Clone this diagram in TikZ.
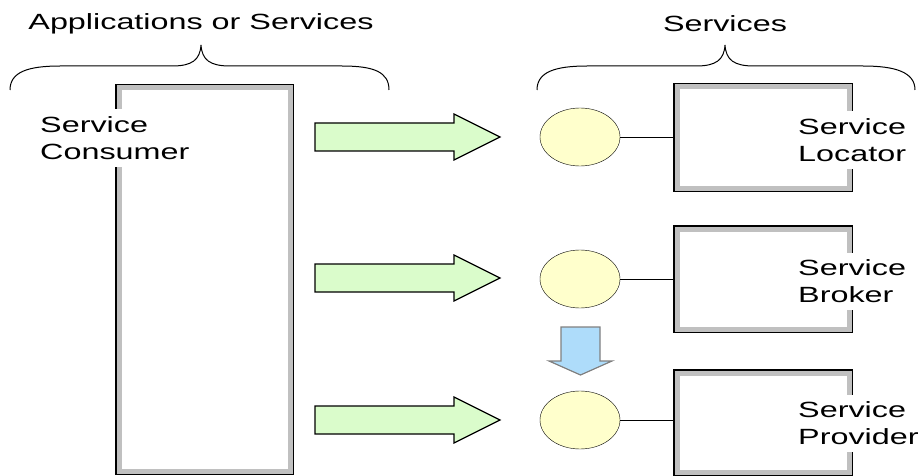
\documentclass[tikz,border=0pt]{standalone}
\usepackage{fontspec}
\setmainfont{Liberation Sans}
\usetikzlibrary{shapes.geometric}

\definecolor{arrowgreen}{HTML}{DAFCCB}
\definecolor{portyellow}{HTML}{FFFFCC}
\definecolor{arrowblue}{HTML}{AEDCFA}
\definecolor{insetgray}{HTML}{C0C0C0}
\newcommand{\wtxt}[1]{\scalebox{1.47}[1]{#1}}

\begin{document}
\begin{tikzpicture}[x=1pt,y=-1pt,
  svcbox/.style={draw,line width=3pt,inner sep=0pt},
  boxinset/.style={draw=insetgray,line width=5pt},
  boxlabel/.style={fill=white,align=left,anchor=west,inner xsep=3pt,inner ysep=7pt,
    font=\fontsize{22}{27}\selectfont},
  heading/.style={font=\fontsize{22}{27}\selectfont},
  port/.style={ellipse,draw,fill=portyellow,minimum width=80pt,minimum height=58pt,inner sep=0pt},
  fatarrow/.style={draw,line width=1.2pt,fill=arrowgreen},
  downarrow/.style={draw=gray,line width=1.2pt,fill=arrowblue},
  bracepath/.style={line width=1pt}]
  \useasboundingbox (0,0) rectangle (921,476);

  % headings and braces
  \node[heading] (apps) at (201,24) {\wtxt{Applications or Services}};
  \node[heading] (svcs) at (725,24) {\wtxt{Services}};
  \draw[bracepath] (10,90) .. controls (10,72) and (28,66) .. (60,66) -- (172,66)
    .. controls (192,66) and (200,60) .. (201,45)
    .. controls (202,60) and (210,66) .. (230,66) -- (342,66)
    .. controls (374,66) and (389,72) .. (389,90);
  \draw[bracepath] (537,90) .. controls (537,72) and (555,66) .. (587,66) -- (696,66)
    .. controls (716,66) and (724,60) .. (725,45)
    .. controls (726,60) and (734,66) .. (754,66) -- (863,66)
    .. controls (895,66) and (915,72) .. (915,90);

  % boxes
  \node[svcbox,minimum width=176pt,minimum height=388pt] (consumer) at (204.5,279.5) {};
  \node[svcbox,minimum width=177pt,minimum height=106pt] (locator) at (763,137.5) {};
  \node[svcbox,minimum width=177pt,minimum height=105pt] (broker) at (763,279) {};
  \node[svcbox,minimum width=177pt,minimum height=104pt] (provider) at (763,422.5) {};
  \foreach \b in {consumer,locator,broker,provider}
    \draw[boxinset] ([xshift=4pt,yshift=-4pt]\b.north west) rectangle ([xshift=-4pt,yshift=4pt]\b.south east);

  \node[boxlabel] (consumertext) at (37,138) {\wtxt{Service}\\\wtxt{Consumer}};
  \node[boxlabel] (locatortext) at (795,140) {\wtxt{Service}\\\wtxt{Locator}};
  \node[boxlabel] (brokertext) at (795,281.5) {\wtxt{Service}\\\wtxt{Broker}};
  \node[boxlabel] (providertext) at (795,423.5) {\wtxt{Service}\\\wtxt{Provider}};

  % ports
  \node[port] (locport) at (580,137) {};
  \node[port] (brokport) at (580,279) {};
  \node[port] (provport) at (580,420) {};
  \draw (locport.east) -- (locport.east -| locator.west);
  \draw (brokport.east) -- (brokport.east -| broker.west);
  \draw (provport.east) -- (provport.east -| provider.west);

  % arrows
  \foreach \y in {137,278,420}
    \draw[fatarrow] (315,\y-14) -- (454,\y-14) -- (454,\y-23) -- (500,\y)
      -- (454,\y+23) -- (454,\y+14) -- (315,\y+14) -- cycle;
  \draw[downarrow] (561,327) -- (600,327) -- (600,361) -- (612,361) -- (580.5,375)
    -- (549,361) -- (561,361) -- cycle;
\end{tikzpicture}
\end{document}
